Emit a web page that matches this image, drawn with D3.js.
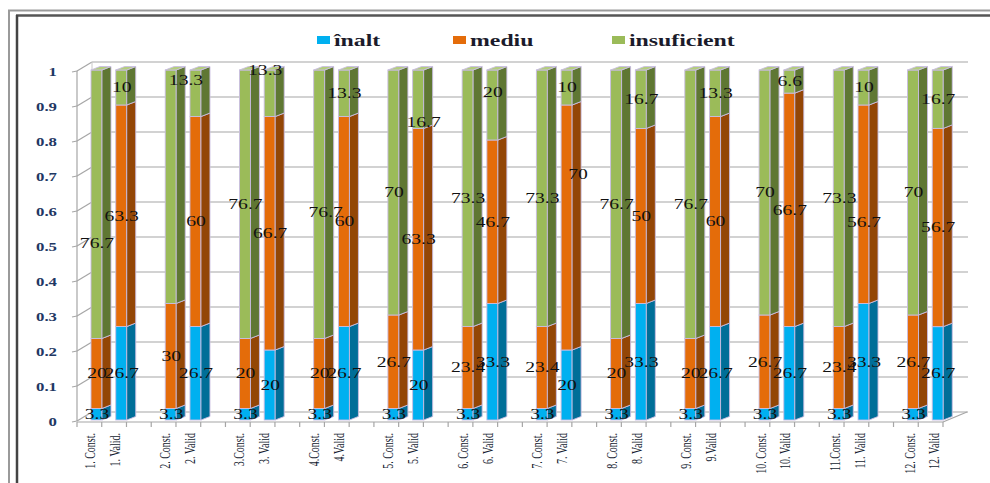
<!DOCTYPE html>
<html><head><meta charset="utf-8">
<script src="https://cdn.jsdelivr.net/npm/d3@7/dist/d3.min.js"></script>
<style>body{margin:0;background:#fff} svg{display:block}</style>
</head><body><svg id="c" width="990" height="483"></svg>
<script>
// ---------- data ----------
const categories = ["1. Const.","1. Valid.","2. Const.","2. Valid","3.Const.","3. Valid","4.Const.","4.Valid",
  "5. Const.","5. Valid","6. Const.","6. Valid","7. Const.","7. Valid","8. Const.","8. Valid",
  "9. Const.","9.Valid","10. Const.","10. Valid","11.Const.","11. Valid","12. Const.","12. Valid"];
const seriesNames = ["înalt","mediu","insuficient"];
const inalt       = [3.3,26.7, 3.3,26.7, 3.3,20, 3.3,26.7, 3.3,20, 3.3,33.3, 3.3,20, 3.3,33.3, 3.3,26.7, 3.3,26.7, 3.3,33.3, 3.3,26.7];
const mediu       = [20,63.3, 30,60, 20,66.7, 20,60, 26.7,63.3, 23.4,46.7, 23.4,70, 20,50, 20,60, 26.7,66.7, 23.4,56.7, 26.7,56.7];
const insuficient = [76.7,10, 66.7,13.3, 76.7,13.3, 76.7,13.3, 70,16.7, 73.3,20, 73.3,10, 76.7,16.7, 76.7,13.3, 70,6.6, 73.3,10, 70,16.7];
const yTickValues = [0,0.1,0.2,0.3,0.4,0.5,0.6,0.7,0.8,0.9,1];
const yTickLabels = ["0","0.1","0.2","0.3","0.4","0.5","0.6","0.7","0.8","0.9","1"];

// label placement quirks of the original (px nudges / hidden labels)
const labelNudges = [
  {bar:0, series:"insuficient", dx:0, dy:39},
  {bar:2, series:"insuficient", hide:true},
  {bar:3, series:"insuficient", dx:-10, dy:-13},
  {bar:5, series:"insuficient", dx:-5, dy:-23},
  {bar:6, series:"insuficient", dx:6, dy:8},
  {bar:9, series:"insuficient", dx:5, dy:23},
  {bar:11, series:"insuficient", dx:0, dy:-13},
  {bar:13, series:"mediu", dx:11, dy:-53},
  {bar:21, series:"mediu", dx:0, dy:18}
];

// ---------- styles ----------
const frontCol = {"înalt":"#00B0F0","mediu":"#E46C0A","insuficient":"#9BBB59"};
const sideCol  = {"înalt":"#006E98","mediu":"#934606","insuficient":"#5F7733"};
const topCol   = {"înalt":"#4FC8F4","mediu":"#EE8A3A","insuficient":"#B3CD7E"};
const edge = "#C9BDE2";
const grid = "#A6A6A6";
const SX = 1.4; // horizontal stretch of the original text rendering

const svg = d3.select("#c");

// frame (top and left double rule)
svg.append("line").attr("x1",8).attr("x2",990).attr("y1",10.5).attr("y2",10.5).attr("stroke","#9a9a9a").attr("stroke-width",2);
svg.append("line").attr("x1",16).attr("x2",990).attr("y1",15.5).attr("y2",15.5).attr("stroke","#555").attr("stroke-width",2.5);
svg.append("line").attr("x1",9).attr("x2",9).attr("y1",10).attr("y2",483).attr("stroke","#9a9a9a").attr("stroke-width",2);
svg.append("line").attr("x1",17).attr("x2",17).attr("y1",15).attr("y2",483).attr("stroke","#444").attr("stroke-width",2.5);

// ---------- scales ----------
const y = d3.scaleLinear().domain([0,1]).range([421,71]);
const slots = d3.scaleBand().domain(d3.range(35)).range([77,943]).padding(0);
const backDx = 15, backDy = -9;
const backRight = 968;
const barW = 11, barD = 9, barDy = -3.5;

// walls & gridlines
const gw = svg.append("g");
yTickValues.forEach(v => {
  const yf = y(v);
  gw.append("line").attr("x1",77).attr("y1",yf).attr("x2",77+backDx).attr("y2",yf+backDy).attr("stroke",grid).attr("stroke-width",1.2);
  gw.append("line").attr("x1",77+backDx).attr("y1",yf+backDy).attr("x2",backRight).attr("y2",yf+backDy).attr("stroke",grid).attr("stroke-width",1.2);
  gw.append("line").attr("x1",72).attr("y1",yf+1).attr("x2",77).attr("y2",yf).attr("stroke",grid).attr("stroke-width",1.2);
});
gw.append("line").attr("x1",77).attr("y1",y(0)).attr("x2",77).attr("y2",y(1)).attr("stroke",grid).attr("stroke-width",1.2);
gw.append("line").attr("x1",77+backDx).attr("y1",y(0)+backDy).attr("x2",77+backDx).attr("y2",y(1)+backDy).attr("stroke","#c8c8c8").attr("stroke-width",1);
// floor front edge and right edge
gw.append("line").attr("x1",77).attr("y1",y(0)+1).attr("x2",943).attr("y2",y(0)+1).attr("stroke",grid).attr("stroke-width",1.2);
gw.append("line").attr("x1",943).attr("y1",y(0)+1).attr("x2",backRight-1).attr("y2",y(0)+backDy).attr("stroke",grid).attr("stroke-width",1.2);
// category ticks
d3.range(36).forEach(k => {
  const x = 77 + k*slots.step();
  gw.append("line").attr("x1",x).attr("x2",x).attr("y1",y(0)+1).attr("y2",y(0)+6).attr("stroke",grid).attr("stroke-width",1.2);
});

// y tick labels
yTickValues.forEach((v,i) => {
  svg.append("text").attr("transform",`translate(57,${y(v)+1}) scale(${SX},1)`)
    .attr("text-anchor","end").attr("dy","0.35em")
    .style("font-family","'Liberation Serif',serif").style("font-weight","bold").style("font-size","12px")
    .attr("fill","#1F3864").text(yTickLabels[i]);
});

// ---------- stacked data ----------
const table = categories.map((c,i) => ({cat:c, "înalt":inalt[i], "mediu":mediu[i], "insuficient":insuficient[i]}));
const stacked = d3.stack().keys(seriesNames).offset(d3.stackOffsetExpand)(table);
const slotOf = i => Math.floor(i/2)*3 + (i%2);

const gb = svg.append("g");
table.forEach((d,i) => {
  const x0 = slots(slotOf(i)) + 14;
  stacked.forEach((ser, s) => {
    const seg = ser[i];
    const key = ser.key;
    const yb = y(seg[0]) - 1, yt = y(seg[1]) - 1;
    gb.append("rect").attr("x",x0).attr("y",yt).attr("width",barW).attr("height",yb-yt)
      .attr("fill",frontCol[key]).attr("stroke",edge).attr("stroke-width",0.9);
    gb.append("polygon").attr("points",[[x0+barW,yt],[x0+barW+barD,yt+barDy],[x0+barW+barD,yb+barDy],[x0+barW,yb]].join(" "))
      .attr("fill",sideCol[key]).attr("stroke",edge).attr("stroke-width",0.9);
    if (s === stacked.length-1) {
      gb.append("polygon").attr("points",[[x0,yt],[x0+barW,yt],[x0+barW+barD,yt+barDy],[x0+barD,yt+barDy]].join(" "))
        .attr("fill",topCol[key]).attr("stroke",edge).attr("stroke-width",0.9);
    }
  });
});

// data labels
const gl = svg.append("g");
table.forEach((d,i) => {
  const x0 = slots(slotOf(i)) + 14;
  stacked.forEach(ser => {
    const seg = ser[i];
    const n = labelNudges.find(o => o.bar===i && o.series===ser.key) || {dx:0,dy:0};
    if (n.hide) return;
    const lx = x0 + 6 + (n.dx||0);
    const ly = (y(seg[0]) + y(seg[1]))/2 - 1 + (n.dy||0);
    gl.append("text").attr("transform",`translate(${lx},${ly}) scale(${SX},1)`)
      .attr("text-anchor","middle").attr("dy","0.35em")
      .style("font-family","'Liberation Serif',serif").style("font-size","14px")
      .attr("fill","#111").text(String(d[ser.key]));
  });
});

// category labels
categories.forEach((c,i) => {
  const cx = slots(slotOf(i)) + slots.bandwidth()/2 + 1 + 3*slotOf(i)/35;
  svg.append("text").attr("transform",`translate(${cx},433) scale(${SX},1) rotate(-90)`)
    .attr("text-anchor","end").attr("dy","0.35em")
    .style("font-family","'Liberation Serif',serif").style("font-size","10px")
    .attr("fill","#141c30").text(c);
});

// legend
const legendX = [317, 453, 612];
seriesNames.forEach((s,i) => {
  svg.append("rect").attr("x",legendX[i]).attr("y",36).attr("width",13).attr("height",8).attr("fill",frontCol[s]);
  svg.append("text").attr("transform",`translate(${legendX[i]+17},46) scale(${SX},1)`)
    .style("font-family","'Liberation Serif',serif").style("font-weight","bold").style("font-size","17px")
    .attr("fill","#1b1b2b").text(s);
});
</script></body></html>
